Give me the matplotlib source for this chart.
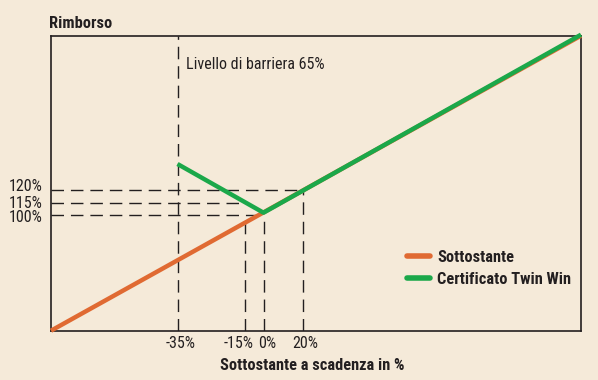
import matplotlib
matplotlib.use("Agg")
import matplotlib.pyplot as plt
from matplotlib.transforms import ScaledTranslation

# Schematic chart units (x: 0% level at 0, y: 0 at bottom)
x_limits = [-212.5, 317.5]
y_limits = [0, 295]

x_tick_pos = [-86, -19, 0, 39]
x_tick_labels = ["-35%", "-15%", "0%", "20%"]
y_tick_pos = [140.4, 127.7, 115.4]
y_tick_labels = ["120%", "115%", "100%"]

# series
sottostante_x = [-212.5, 317.5]
sottostante_y = [0, 295]
twinwin_x = [-86, 0, 317.5]
twinwin_y = [166.7, 118.0, 296.0]

# guide line heights (top of vertical dashed lines, right end of horizontal)
vline_tops = [295, 115.4, 115.4, 140.4]
hline_ends = [39, -17, 0]

bg = "#F5EAD9"
orange = "#E06A32"
green = "#1BA84A"
ink = "#231F20"

plt.rcParams['font.family'] = ['Roboto Condensed', 'Archivo Narrow', 'DejaVu Sans']
FS = 11.5
FSB = 11.8

fig = plt.figure(figsize=(5.98, 3.80), dpi=100, facecolor=bg)
ax = fig.add_axes([51/598, 1-330.7/380, 530/598, 295/380])
ax.set_facecolor(bg)
ax.set_xlim(x_limits)
ax.set_ylim(y_limits)

dash = (0, (9, 5))
for xp, top in zip(x_tick_pos, vline_tops):
    ax.plot([xp, xp], [0, top], color=ink, lw=1.0, linestyle=dash, zorder=1)
for yp, xe in zip(y_tick_pos, hline_ends):
    ax.plot([x_limits[0], xe], [yp, yp], color=ink, lw=1.0, linestyle=dash, zorder=1)

ax.plot(sottostante_x, sottostante_y, color=orange, lw=3.2, solid_capstyle='butt',
        label="Sottostante", zorder=3, clip_on=False)
ax.plot(twinwin_x, twinwin_y, color=green, lw=3.2, solid_capstyle='butt',
        label="Certificato Twin Win", zorder=4, clip_on=False)

for s in ax.spines.values():
    s.set_color(ink)
    s.set_linewidth(1.2)

ax.set_xticks(x_tick_pos)
ax.set_xticklabels(x_tick_labels)
ax.set_yticks(y_tick_pos)
ax.set_yticklabels(y_tick_labels)
ax.tick_params(length=0, labelsize=FS, colors=ink)
ax.tick_params(axis='y', pad=6)
ax.tick_params(axis='x', pad=4)

# nudge crowded tick labels (pixel offsets)
x_shift = [3, -6, 4, 3]
for lab, dx in zip(ax.get_xticklabels(), x_shift):
    lab.set_transform(lab.get_transform() + ScaledTranslation(dx/100, 0, fig.dpi_scale_trans))
y_shift = [5, 1, -1]
for lab, dy in zip(ax.get_yticklabels(), y_shift):
    lab.set_transform(lab.get_transform() + ScaledTranslation(0, dy/100, fig.dpi_scale_trans))

ax.text(-78, 266, "Livello di barriera 65%", fontsize=FS, color=ink, va='center', ha='left')

leg = ax.legend(loc='upper left', bbox_to_anchor=(0.672, 0.275), frameon=False,
                borderpad=0, borderaxespad=0, handlelength=1.4, handletextpad=0.42,
                labelspacing=0.45, prop={'weight': 'bold', 'size': FSB})
for t in leg.get_texts():
    t.set_color(ink)
for h in leg.get_lines():
    h.set_linewidth(4)
    h.set_solid_capstyle('round')

fig.text(49/598, 1-28.5/380, "Rimborso", fontsize=FSB, fontweight='bold', color=ink,
         ha='left', va='baseline')
fig.text(312/598, 1-370/380, "Sottostante a scadenza in %", fontsize=FSB, fontweight='bold',
         color=ink, ha='center', va='baseline')

fig.savefig("out.png", dpi=100, facecolor=bg)
